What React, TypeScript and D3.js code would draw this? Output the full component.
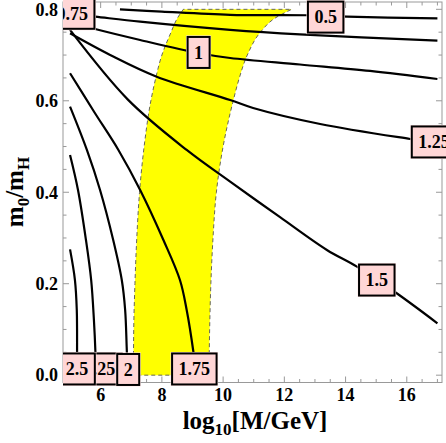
import React from 'react'
import * as d3 from 'd3'

const xTicks = [6, 8, 10, 12, 14, 16]
const yTicks = [0, 0.2, 0.4, 0.6, 0.8]
const yTickLabels = ['0.0', '0.2', '0.4', '0.6', '0.8']

// yellow band (shared m0/mH values, left and right edge in log10 M)
const bandY = [0, 0.1, 0.2, 0.3, 0.4, 0.5, 0.6, 0.65, 0.7, 0.75, 0.78, 0.8]
const bandLeft = [7.07, 7.08, 7.12, 7.18, 7.27, 7.42, 7.64, 7.8, 8.0, 8.3, 8.5, 8.7]
const bandRight = [9.54, 9.56, 9.6, 9.67, 9.78, 10.0, 10.33, 10.53, 10.79, 11.22, 11.68, 12.24]

// contour lines
const c05x = [6.63, 8.0, 10.23, 12.74, 14.05, 17]
const c05y = [0.8, 0.795, 0.788, 0.787, 0.784, 0.78]
const c075x = [5, 5.82, 7.29, 10.23, 12.51, 17]
const c075y = [0.79, 0.784, 0.773, 0.755, 0.745, 0.7315]
const c1x = [5, 5.82, 7.29, 9.18, 10.23, 12.51, 14.8, 17]
const c1y = [0.772, 0.757, 0.733, 0.7045, 0.6936, 0.6794, 0.6652, 0.6477]
const c125x = [5, 6.31, 7.83, 10.23, 10.98, 13.17, 16.11, 17]
const c125y = [0.7476, 0.7002, 0.6527, 0.6018, 0.5843, 0.5493, 0.5165, 0.5078]
const c15x = [5, 6.89, 8.81, 10.23, 11.86, 13.39, 14.37, 15.67, 17]
const c15y = [0.7549, 0.6025, 0.4925, 0.4231, 0.3455, 0.2738, 0.2373, 0.1791, 0.1135]
const c175x = [5, 5.78, 6.58, 7.29, 8.05, 8.59, 8.81, 9.03, 9.12]
const c175y = [0.6602, 0.5766, 0.4925, 0.405, 0.2956, 0.2081, 0.1426, 0.0507, 0]
const c2x = [5, 5.55, 5.98, 6.41, 6.69, 6.8, 6.85, 6.88]
const c2y = [0.5871, 0.4925, 0.405, 0.2956, 0.2081, 0.1426, 0.0623, 0]
const c225x = [5, 5.26, 5.52, 5.69, 5.78, 5.83, 5.85]
const c225y = [0.4815, 0.405, 0.2956, 0.2081, 0.1207, 0.0486, 0]
const c25x = [5, 5.16, 5.22, 5.23, 5.23]
const c25y = [0.275, 0.2081, 0.1426, 0.0486, 0]

// contour labels, in drawing order
const labelText = ['0.5', '0.75', '1', '1.25', '1.5', '1.75', '2.25', '2', '2.5']
const labelX = [13.35, 5.07, 9.2, 16.89, 15.02, 9.06, 5.96, 6.9, 5.23]
const labelY = [0.783, 0.7913, 0.7057, 0.51, 0.208, 0.0136, 0.0136, 0.0125, 0.0136]

const serif = "'Liberation Serif', 'Times New Roman', serif"

const App = () => {
    const ref = React.useRef<SVGSVGElement>(null)

    React.useEffect(() => {
        const svg = d3.select(ref.current)
        svg.selectAll('*').remove()

        const x = d3.scaleLinear().domain([4.77, 17.15]).range([63, 442])
        const y = d3.scaleLinear().domain([-0.016, 0.816]).range([382.5, 2])

        // band
        const band = bandY.map((v, i) => ({ y: v, l: bandLeft[i], r: bandRight[i] }))
        const area = d3
            .area<any>()
            .y((d) => y(d.y))
            .x0((d) => x(d.l))
            .x1((d) => x(d.r))
            .curve(d3.curveMonotoneY)
        svg.append('path')
            .attr('d', area(band))
            .attr('fill', '#ffff00')
            .attr('stroke', '#555')
            .attr('stroke-width', 0.9)
            .attr('stroke-dasharray', '4,3')

        // contours
        const contours = [
            [c05x, c05y], [c075x, c075y], [c1x, c1y], [c125x, c125y], [c15x, c15y],
            [c175x, c175y], [c2x, c2y], [c225x, c225y], [c25x, c25y],
        ]
        const line = d3
            .line<any>()
            .x((d) => x(d[0]))
            .y((d) => y(d[1]))
            .curve(d3.curveCatmullRom.alpha(0.5))
        contours.forEach(([xs, ys]) => {
            svg.append('path')
                .attr('d', line(xs.map((v, i) => [v, ys[i]])))
                .attr('fill', 'none')
                .attr('stroke', 'black')
                .attr('stroke-width', 2.2)
        })

        // frame
        const [x0, x1] = x.range()
        const [yb, yt] = y.range()
        svg.append('rect')
            .attr('x', x0).attr('y', yt)
            .attr('width', x1 - x0).attr('height', yb - yt)
            .attr('fill', 'none').attr('stroke', '#999').attr('stroke-width', 1)

        const tickColor = '#999'
        const xMinor = d3.range(5, 17.01, 0.5)
        xMinor.forEach((v) => {
            const major = Math.abs(v % 2) < 1e-6
            const len = major ? 6 : 3.5
            svg.append('line').attr('x1', x(v)).attr('x2', x(v)).attr('y1', yb).attr('y2', yb - len)
                .attr('stroke', tickColor)
            svg.append('line').attr('x1', x(v)).attr('x2', x(v)).attr('y1', yt).attr('y2', yt + len)
                .attr('stroke', tickColor)
        })
        const yMinor = d3.range(0, 0.801, 0.05)
        yMinor.forEach((v, i) => {
            const len = i % 4 === 0 ? 6 : 3.5
            svg.append('line').attr('x1', x0).attr('x2', x0 + len).attr('y1', y(v)).attr('y2', y(v))
                .attr('stroke', tickColor)
            svg.append('line').attr('x1', x1).attr('x2', x1 - len).attr('y1', y(v)).attr('y2', y(v))
                .attr('stroke', tickColor)
        })

        // tick labels
        svg.selectAll('.xl')
            .data(xTicks)
            .enter()
            .append('text')
            .attr('x', (d) => x(d))
            .attr('y', 401)
            .attr('text-anchor', 'middle')
            .style('font', `bold 18px ${serif}`)
            .text((d) => d)
        svg.selectAll('.yl')
            .data(yTicks)
            .enter()
            .append('text')
            .attr('x', 58)
            .attr('y', (d) => y(d))
            .attr('dy', '0.35em')
            .attr('text-anchor', 'end')
            .style('font', `bold 18px ${serif}`)
            .text((d, i) => yTickLabels[i])

        // axis titles
        const xt = svg.append('text')
            .attr('x', 255)
            .attr('y', 429)
            .attr('text-anchor', 'middle')
            .style('font', `bold 25px ${serif}`)
        xt.append('tspan').text('log')
        xt.append('tspan').attr('dy', 6).style('font-size', '17px').text('10')
        xt.append('tspan').attr('dy', -6).text('[M/GeV]')

        const yt2 = svg.append('text')
            .attr('transform', 'translate(23,192) rotate(-90)')
            .attr('text-anchor', 'middle')
            .style('font', `bold 25px ${serif}`)
        yt2.append('tspan').text('m')
        yt2.append('tspan').attr('dy', 6).style('font-size', '17px').text('0')
        yt2.append('tspan').attr('dy', -6).text('/m')
        yt2.append('tspan').attr('dy', 6).style('font-size', '17px').text('H')

        // contour labels
        svg.append('clipPath').attr('id', 'lblclip')
            .append('rect').attr('x', x0).attr('y', -20).attr('width', 500).attr('height', 500)
        const lg = svg.append('g').attr('clip-path', 'url(#lblclip)')
        labelText.forEach((t, i) => {
            const g = lg.append('g').attr('transform', `translate(${x(labelX[i])},${y(labelY[i])})`)
            const rect = g.append('rect')
            const txt = g.append('text')
                .attr('text-anchor', 'middle')
                .attr('dy', '0.35em')
                .style('font', `bold 18px ${serif}`)
                .text(t)
            const w = (txt.node() as SVGTextElement).getComputedTextLength() + 13
            const h = 31
            rect.attr('x', -w / 2).attr('y', -h / 2).attr('width', w).attr('height', h)
                .attr('fill', '#ffd6d6')
                .attr('stroke', 'black')
                .attr('stroke-width', 2)
            g.insert('rect', 'rect')
                .attr('x', -w / 2 - 1.5).attr('y', -h / 2 - 1.5).attr('width', w + 3).attr('height', h + 3)
                .attr('fill', '#ffe4e4')
        })
    }, [])

    return (
        <div style={{ position: 'absolute', left: 0, top: 0, width: 446, height: 443, overflow: 'hidden' }}>
            <svg ref={ref} width={446} height={443} style={{ display: 'block', background: 'white' }}></svg>
        </div>
    )
}

export default App
